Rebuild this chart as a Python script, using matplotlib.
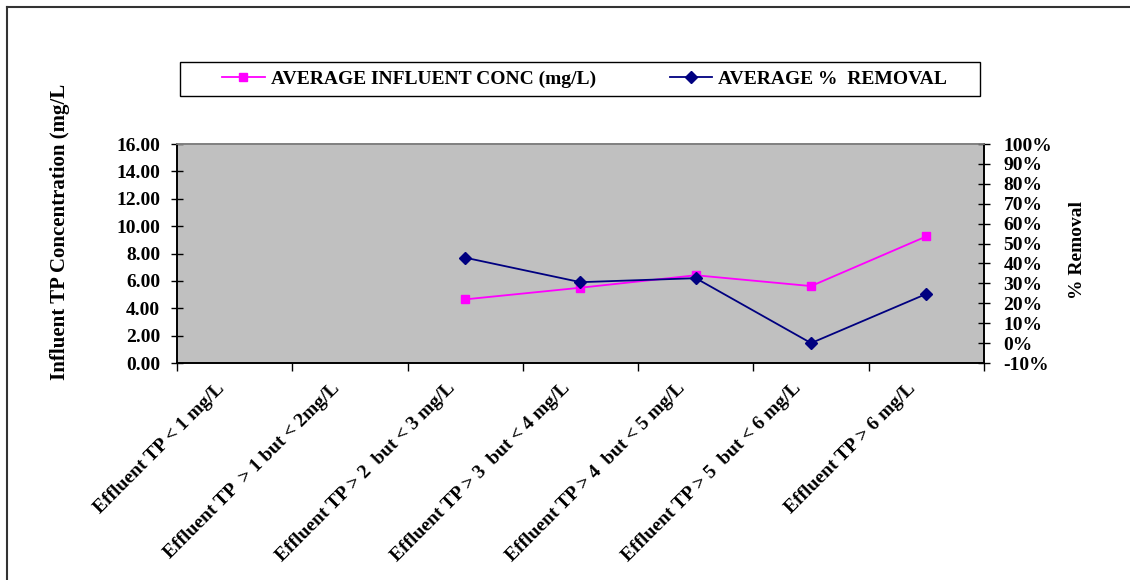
import numpy as np
from matplotlib import pyplot as plt
from matplotlib.ticker import PercentFormatter, FixedLocator
from matplotlib.lines import Line2D
from matplotlib.patches import Rectangle
from matplotlib.transforms import ScaledTranslation

categories = [
    "Effluent TP < 1 mg/L",
    "Effluent TP  > 1 but < 2mg/L",
    "Effluent TP > 2  but < 3 mg/L",
    "Effluent TP > 3  but < 4 mg/L",
    "Effluent TP > 4  but < 5 mg/L",
    "Effluent TP > 5  but < 6 mg/L",
    "Effluent TP > 6 mg/L",
]
influent_conc = [np.nan, np.nan, 4.65, 5.50, 6.41, 5.62, 9.25]
pct_removal = [np.nan, np.nan, 0.429, 0.306, 0.326, 0.0, 0.247]
left_ticks = [0, 2, 4, 6, 8, 10, 12, 14, 16]
right_ticks = [-0.1, 0.0, 0.1, 0.2, 0.3, 0.4, 0.5, 0.6, 0.7, 0.8, 0.9, 1.0]

plt.rcParams['font.family'] = ['Liberation Serif', 'DejaVu Serif']
plt.rcParams['font.weight'] = 'bold'
plt.rcParams['axes.unicode_minus'] = False

fig = plt.figure(figsize=(11.3, 5.8), dpi=100)
ax = fig.add_axes([177/1130, 1-363/580, 807/1130, 219/580])
ax.set_facecolor('#C0C0C0')

x = np.arange(len(categories))
l1, = ax.plot(x, influent_conc, color='#FF00FF', marker='s', markersize=6, lw=1.3)
ax2 = ax.twinx()
l2, = ax2.plot(x, pct_removal, color='#000080', marker='D', markersize=6, lw=1.3)

ax.set_xlim(-0.5, len(categories) - 0.5)
ax.set_ylim(0, 16)
ax2.set_ylim(-0.1, 1.0)
ax.set_yticks(left_ticks)
ax.set_yticklabels([f"{v:.2f}" for v in left_ticks])
ax2.set_yticks(right_ticks)
ax2.yaxis.set_major_formatter(PercentFormatter(1.0, decimals=0))

ax.xaxis.set_major_locator(FixedLocator(np.arange(len(categories) + 1) - 0.5))
ax.xaxis.set_minor_locator(FixedLocator(x))
ax.set_xticklabels([], minor=False)
ax.set_xticklabels(categories, minor=True, rotation=45, ha='right',
                   rotation_mode='anchor', fontsize=14, fontweight='bold')
ax.tick_params(axis='x', which='major', direction='out', length=6, width=1)
ax.tick_params(axis='x', which='minor', length=0, pad=12)
ax.tick_params(axis='y', direction='inout', length=8, width=1, labelsize=14, pad=8)
ax2.tick_params(axis='y', direction='inout', length=8, width=1, labelsize=14, pad=10)

# nudge category labels left, like the original layout
shift = ScaledTranslation(-19/100, 0, fig.dpi_scale_trans)
for lab in ax.get_xticklabels(minor=True):
    lab.set_transform(lab.get_transform() + shift)

for a in (ax, ax2):
    a.spines['top'].set_color('#808080')
    a.spines['right'].set_color('black')
    a.spines['left'].set_color('black')
    a.spines['bottom'].set_color('black')
    for s in a.spines.values():
        s.set_linewidth(1.2)

fig.text(60/1130, 1-232/580, "Influent TP Concentration (mg/L", rotation=90,
         ha='center', va='center', fontsize=15, fontweight='bold')
fig.text(1078/1130, 1-250/580, "% Removal", rotation=90,
         ha='center', va='center', fontsize=14, fontweight='bold')

# legend box
fig.add_artist(Rectangle((180/1130, 1-96/580), 800/1130, 34/580, transform=fig.transFigure,
                         facecolor='white', edgecolor='black', lw=1))
fig.legend([l1, l2], ["AVERAGE INFLUENT CONC (mg/L)", "AVERAGE %  REMOVAL"],
           loc='center left', bbox_to_anchor=(222/1130, 1-79/580),
           ncol=2, frameon=False, prop={'size': 14, 'weight': 'bold'},
           handlelength=2.2, handletextpad=0.3, columnspacing=3.8,
           borderaxespad=0, borderpad=0)

fig.add_artist(Line2D([7/1130, 1], [1-7/580, 1-7/580], color='#333333', lw=1.5))
fig.add_artist(Line2D([7/1130, 7/1130], [0, 1-7/580], color='#333333', lw=1.5))

fig.savefig('out.png', dpi=100)
